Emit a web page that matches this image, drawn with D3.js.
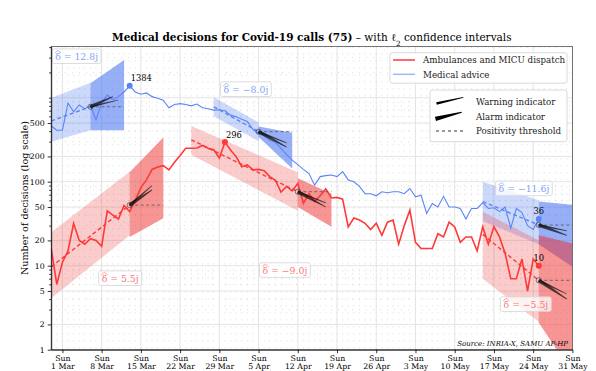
<!DOCTYPE html>
<meta charset="utf-8">
<style>
    body { margin: 0; background: #fff; }
    svg { font-family: "DejaVu Serif", "Liberation Serif", serif; }
    .grid-major line { stroke: #dedede; stroke-width: 0.8; }
    .grid-minor line { stroke: #c2c2c2; stroke-width: 0.7; stroke-dasharray: 0.8, 6.2; }
    .axis path, .axis line { stroke: #000; stroke-width: 0.8; }
    .axis text { fill: #000; font-size: 7.8px; font-family: "DejaVu Serif", serif; }
    .trend { fill: none; stroke-width: 1.4; stroke-dasharray: 4, 2.6; }
    .threshold { stroke: #555; stroke-width: 0.8; stroke-dasharray: 3, 2.5; }
    .legend rect { fill: #fff; fill-opacity: 0.9; stroke: #d0d0d0; stroke-width: 0.8; }
    .legend text { font-size: 8.7px; fill: #222; }
</style>
<body>
<script src="https://d3js.org/d3.v7.min.js"></script>
<script>

    // daily counts, starting on startDate
    var startDate = "2020-02-28";

    var ambulance = [16, 6,
        11, 15, 32, 20, 18, 21, 20, 17, 45, 40, 36, 52, 44, 60, 85, 105, 140, 150, 155, 138,
        170, 205, 250, 250, 252, 270, 250, 240, 192, 296, 238,
        199, 151, 159, 138, 140, 135, 115, 104, 75, 88, 78, 95, 55, 72, 58, 68, 82, 64, 65,
        62, 29, 37, 35, 32, 27, 32, 23, 33, 35, 18,
        30, 46, 19, 16, 16, 16, 24, 22, 33, 29, 19, 22, 22, 15, 29, 18, 29, 22, 14, 7, 7,
        12, 5, 12, 10];

    var advice = [460, 410,
        410, 860, 680, 820, 740, 800, 545, 880, 1075, 950, 1030, 1170, 1384, 1170, 1100, 1140,
        1030, 985, 935, 760, 830, 850, 830, 800, 840, 760, 740, 712, 720, 700, 620,
        595, 555, 520, 420, 375, 360, 312, 295, 250, 210, 181, 160, 140, 125, 91, 115, 118, 120,
        115, 132, 105, 100, 88, 72, 72, 68, 76, 74, 76, 76,
        72, 83, 66, 69, 42, 55, 50, 67, 50, 50, 48, 36, 48, 48, 56, 48, 49, 44, 50, 28, 48,
        43, 30, 27, 36];

    // fitted regimes: window, trend, confidence band, forecast cone, indicators, doubling time
    var adviceFits = [
        {start: "2020-02-28", pivot: "2020-03-06", end: "2020-03-12", trend: [528, 780],
         band: [["2020-02-28", 300, 990], ["2020-03-06", 410, 1510]],
         cone: [["2020-03-06", 410, 1490], ["2020-03-12", 410, 2810]],
         warn: ["2020-03-11", 940], alarm: ["2020-03-10", 1030],
         delta: "12.8", labelAt: ["2020-02-28T17:00", 2810]},
        {start: "2020-03-28", pivot: "2020-04-05", end: "2020-04-11", trend: [780, 394],
         band: [["2020-03-28", 600, 1010], ["2020-04-05", 303, 510]],
         cone: [["2020-04-05", 340, 455], ["2020-04-11", 144, 382]],
         warn: ["2020-04-10", 290], alarm: ["2020-04-10", 258],
         delta: "\u22128.0", labelAt: ["2020-03-29T18:00", 1138]},
        {start: "2020-05-15", pivot: "2020-05-25", end: "2020-05-31", trend: [58, 30.5],
         band: [["2020-05-15", 34, 100], ["2020-05-25", 18, 60]],
         cone: [["2020-05-25", 18, 58], ["2020-05-31", 9.7, 53]],
         warn: ["2020-05-30", 26], alarm: ["2020-05-30", 23],
         delta: "\u221211.6", labelAt: ["2020-05-17T20:00", 75]}
    ];

    var ambulanceFits = [
        {start: "2020-02-28", pivot: "2020-03-13", end: "2020-03-19", trend: [9.7, 52.7],
         band: [["2020-02-28", 4.1, 25], ["2020-03-13", 23, 131]],
         cone: [["2020-03-13", 22, 130], ["2020-03-19", 36.6, 335]],
         warn: ["2020-03-17", 90], alarm: ["2020-03-17", 80],
         delta: "5.5", labelAt: ["2020-03-08T00:00", 6.4]},
        {start: "2020-03-24", pivot: "2020-04-12", end: "2020-04-18", trend: [315, 76],
         band: [["2020-03-24", 210, 460], ["2020-04-12", 45, 130]],
         cone: [["2020-04-12", 50, 110], ["2020-04-18", 29, 72]],
         warn: ["2020-04-17", 56], alarm: ["2020-04-17", 50],
         delta: "\u22129.0", labelAt: ["2020-04-05T17:00", 8.0]},
        {start: "2020-05-15", pivot: "2020-05-25", end: "2020-05-31", trend: [23.6, 6.7],
         band: [["2020-05-15", 7, 44], ["2020-05-25", 2.15, 20]],
         cone: [["2020-05-25", 2.1, 23], ["2020-05-31", 0.53, 18.4]],
         warn: ["2020-05-30", 4.6], alarm: ["2020-05-30", 4.0],
         delta: "\u22125.5", labelAt: ["2020-05-18T17:00", 3.14]}
    ];

    // marked points: series, date, value
    var peaks = [
        ["advice", "2020-03-13", 1384],
        ["ambulance", "2020-03-30", 296],
        ["advice", "2020-05-25", 36],
        ["ambulance", "2020-05-25", 10]
    ];

    var yTickValues = [1, 2, 5, 10, 20, 50, 100, 200, 500];
    var xDomain = ["2020-02-28", "2020-05-31"];
    var seriesNames = ["Ambulances and MICU dispatch", "Medical advice"];
    var indicatorNames = ["Warning indicator", "Alarm indicator", "Positivity threshold"];

    var colors = {ambulance: "#ff3838", advice: "#5a85f5"},
        fills = {ambulance: "#f02a2a", advice: "#2f5ff0"},
        labelColors = {ambulance: "#f47a7a", advice: "#86a2f2"};

    var width = 596, height = 371,
        plot = {left: 51.2, right: 572.4, top: 46.5, bottom: 349.7};

    var parseMin = d3.utcParse("%Y-%m-%dT%H:%M"),
        parseDay = d3.utcParse("%Y-%m-%d");
    function parseDate(s) { return parseMin(s) || parseDay(s); }

    var x = d3.scaleUtc()
        .domain(xDomain.map(parseDate))
        .range([plot.left, plot.right]);

    var y = d3.scaleLog()
        .domain([1, 4070])
        .range([plot.bottom, plot.top]);

    var svg = d3.select("body").append("svg")
        .attr("width", width)
        .attr("height", height);

    svg.append("defs").append("clipPath").attr("id", "clip")
        .append("rect")
        .attr("x", plot.left).attr("y", plot.top)
        .attr("width", plot.right - plot.left).attr("height", plot.bottom - plot.top);

    var day0 = parseDate(startDate);
    function toPoints(values) {
        return values.map(function(v, i) { return {date: d3.utcDay.offset(day0, i), value: v}; });
    }
    var series = {ambulance: toPoints(ambulance), advice: toPoints(advice)};

    // grid
    var days = d3.utcDay.range(x.domain()[0], d3.utcDay.offset(x.domain()[1], 1));
    var sundays = d3.utcSunday.range(parseDate("2020-03-01"), d3.utcDay.offset(x.domain()[1], 1));
    var yMinor = [];
    [1, 10, 100, 1000].forEach(function(dec) {
        d3.range(2, 10).forEach(function(k) {
            if (k * dec <= 4070 && yTickValues.indexOf(k * dec) < 0) yMinor.push(k * dec);
        });
    });

    var minor = svg.append("g").attr("class", "grid-minor");
    minor.selectAll("line.v").data(days).enter().append("line")
        .attr("x1", function(d) { return x(d); }).attr("x2", function(d) { return x(d); })
        .attr("y1", plot.top).attr("y2", plot.bottom);
    minor.selectAll("line.h").data(yMinor).enter().append("line")
        .attr("x1", plot.left).attr("x2", plot.right)
        .attr("y1", function(d) { return y(d); }).attr("y2", function(d) { return y(d); });

    var major = svg.append("g").attr("class", "grid-major");
    major.selectAll("line.v").data(sundays).enter().append("line")
        .attr("x1", function(d) { return x(d); }).attr("x2", function(d) { return x(d); })
        .attr("y1", plot.top).attr("y2", plot.bottom);
    major.selectAll("line.h").data(yTickValues.concat([1000])).enter().append("line")
        .attr("x1", plot.left).attr("x2", plot.right)
        .attr("y1", function(d) { return y(d); }).attr("y2", function(d) { return y(d); });

    var chart = svg.append("g").attr("clip-path", "url(#clip)");

    var area = d3.area()
        .x(function(d) { return x(parseDate(d[0])); })
        .y0(function(d) { return y(d[1]); })
        .y1(function(d) { return y(d[2]); });

    function wedge(p0, p1, w0, w1) {
        var dx = p1[0] - p0[0], dy = p1[1] - p0[1], L = Math.hypot(dx, dy),
            nx = -dy / L, ny = dx / L;
        return "M" + [p0[0] + nx * w0, p0[1] + ny * w0] +
            "L" + [p1[0] + nx * w1, p1[1] + ny * w1] +
            "L" + [p1[0] - nx * w1, p1[1] - ny * w1] +
            "L" + [p0[0] - nx * w0, p0[1] - ny * w0] + "Z";
    }

    var allFits = adviceFits.map(function(f) { return {key: "advice", f: f}; })
        .concat(ambulanceFits.map(function(f) { return {key: "ambulance", f: f}; }));

    // bands
    allFits.forEach(function(o) {
        chart.append("path").datum(o.f.band).attr("d", area)
            .attr("fill", fills[o.key]).attr("fill-opacity", 0.24);
    });
    allFits.forEach(function(o) {
        chart.append("path").datum(o.f.cone).attr("d", area)
            .attr("fill", fills[o.key]).attr("fill-opacity", 0.5);
    });

    // series lines
    var line = d3.line()
        .x(function(d) { return x(d.date); })
        .y(function(d) { return y(d.value); });

    chart.append("path").datum(series.advice).attr("d", line)
        .attr("fill", "none").attr("stroke", colors.advice).attr("stroke-width", 1.1);
    chart.append("path").datum(series.ambulance).attr("d", line)
        .attr("fill", "none").attr("stroke", colors.ambulance).attr("stroke-width", 1.6);

    // trends, thresholds, indicators
    allFits.forEach(function(o) {
        var f = o.f,
            p0 = [x(parseDate(f.start)), y(f.trend[0])],
            p1 = [x(parseDate(f.pivot)), y(f.trend[1])];
        chart.append("line").attr("class", "trend")
            .attr("x1", p0[0]).attr("y1", p0[1]).attr("x2", p1[0]).attr("y2", p1[1])
            .attr("stroke", colors[o.key]);
        chart.append("line").attr("class", "threshold")
            .attr("x1", p1[0]).attr("y1", p1[1])
            .attr("x2", x(parseDate(f.end))).attr("y2", p1[1]);
        var pw = [x(parseDate(f.warn[0])), y(f.warn[1])],
            pa = [x(parseDate(f.alarm[0])), y(f.alarm[1])];
        chart.append("path").attr("d", wedge(p1, pw, 1.1, 0.3))
            .attr("fill", "#111").attr("fill-opacity", 0.75);
        chart.append("path").attr("d", wedge(p1, pa, 1.9, 0.4))
            .attr("fill", "#111").attr("fill-opacity", 0.75);
        chart.append("circle").attr("cx", p1[0]).attr("cy", p1[1]).attr("r", 2.6)
            .attr("fill", "none").attr("stroke", "#333").attr("stroke-width", 0.6);
    });

    // marked points
    peaks.forEach(function(p, i) {
        var px = x(parseDate(p[1])), py = y(p[2]);
        svg.append("circle").attr("cx", px).attr("cy", py).attr("r", 3)
            .attr("fill", colors[p[0]]);
        svg.append("text")
            .attr("x", i < 2 ? px + 1 : px)
            .attr("y", py - 4.5)
            .attr("text-anchor", i < 2 ? "start" : "middle")
            .style("font-size", "8.3px")
            .text(p[2]);
    });

    // doubling time labels, with a wide hat over the delta
    allFits.forEach(function(o) {
        var f = o.f,
            g = svg.append("g"),
            t = g.append("text")
                .attr("x", x(parseDate(f.labelAt[0])))
                .attr("y", y(f.labelAt[1]))
                .attr("fill", labelColors[o.key])
                .style("font-size", "9.3px")
                .text("\u03B4 = " + f.delta + "j");
        var b = t.node().getBBox(),
            c = t.node().getExtentOfChar(0),
            base = y(f.labelAt[1]),
            hatTop = base - 9.6;
        g.append("path")
            .attr("d", "M" + (c.x - 0.3) + "," + (hatTop + 2.4) +
                "L" + (c.x + c.width / 2) + "," + hatTop +
                "L" + (c.x + c.width + 0.3) + "," + (hatTop + 2.4))
            .attr("fill", "none").attr("stroke", labelColors[o.key]).attr("stroke-width", 0.7);
        var top = Math.min(b.y, hatTop) - 1.5;
        g.insert("rect", "text")
            .attr("x", b.x - 3).attr("y", top)
            .attr("width", b.width + 6).attr("height", b.y + b.height + 1.5 - top)
            .attr("rx", 2)
            .attr("fill", "#fff").attr("fill-opacity", 0.75)
            .attr("stroke", "#d4d4d4").attr("stroke-width", 0.8);
    });

    // axes
    svg.append("rect")
        .attr("x", plot.left).attr("y", plot.top)
        .attr("width", plot.right - plot.left).attr("height", plot.bottom - plot.top)
        .attr("fill", "none").attr("stroke", "#555").attr("stroke-width", 0.8);

    svg.append("g")
        .attr("class", "axis")
        .attr("transform", "translate(" + plot.left + ",0)")
        .call(d3.axisLeft(y).tickValues(yMinor.concat([1000])).tickSize(2).tickFormat(""))
        .select(".domain").remove();

    svg.append("g")
        .attr("class", "axis")
        .attr("transform", "translate(" + plot.left + ",0)")
        .call(d3.axisLeft(y).tickValues(yTickValues).tickSize(3.5).tickSizeOuter(0)
            .tickFormat(d3.format("d")));

    var xAxis = svg.append("g")
        .attr("class", "axis")
        .attr("transform", "translate(0," + plot.bottom + ")")
        .call(d3.axisBottom(x).tickValues(sundays).tickSize(3.5).tickSizeOuter(0).tickFormat(""));

    var fmt = d3.utcFormat("%-d %b");
    xAxis.selectAll(".tick").append("text")
        .attr("y", 11).attr("text-anchor", "middle")
        .text("Sun");
    xAxis.selectAll(".tick").append("text")
        .attr("y", 19.3).attr("text-anchor", "middle")
        .text(function(d) { return fmt(d); });

    svg.append("text")
        .attr("transform", "translate(27.5," + ((plot.top + plot.bottom) / 2) + ") rotate(-90)")
        .attr("text-anchor", "middle")
        .style("font-size", "9.6px")
        .text("Number of decisions (log scale)");

    var title = svg.append("text")
        .attr("x", (plot.left + plot.right) / 2)
        .attr("y", 41)
        .attr("text-anchor", "middle")
        .style("font-size", "10.5px");
    title.append("tspan").style("font-weight", "bold").text("Medical decisions for Covid-19 calls (75)");
    title.append("tspan").text(" \u2013 with \u2113");
    title.append("tspan").attr("baseline-shift", "sub").style("font-size", "7.2px").text("2");
    title.append("tspan").text(" confidence intervals");

    svg.append("text")
        .attr("x", 568).attr("y", 346)
        .attr("text-anchor", "end")
        .style("font-size", "7px").style("font-style", "italic")
        .text("Source: INRIA-X, SAMU AP-HP");

    // legends
    var leg1 = svg.append("g").attr("class", "legend");
    leg1.append("rect").attr("x", 390).attr("y", 52.7).attr("width", 177).attr("height", 30.5).attr("rx", 2.5);
    seriesNames.forEach(function(name, i) {
        var ly = 60 + i * 14.3;
        leg1.append("line").attr("x1", 393).attr("x2", 415).attr("y1", ly).attr("y2", ly)
            .attr("stroke", i === 0 ? colors.ambulance : "#a3b7f7").attr("stroke-width", 1.5);
        leg1.append("text").attr("x", 423).attr("y", ly + 3.2).text(name);
    });

    var leg2 = svg.append("g").attr("class", "legend");
    leg2.append("rect").attr("x", 430).attr("y", 90).attr("width", 137).attr("height", 51.7).attr("rx", 2.5);
    leg2.append("path").attr("d", wedge([436.5, 103.6], [463.3, 97.3], 1.3, 0.35)).attr("fill", "#000");
    leg2.append("path").attr("d", wedge([435.5, 118.8], [461.7, 112.3], 2.2, 0.5)).attr("fill", "#000");
    leg2.append("line").attr("x1", 436).attr("x2", 463).attr("y1", 131).attr("y2", 131)
        .attr("stroke", "#000").attr("stroke-width", 0.8).attr("stroke-dasharray", "3,3");
    indicatorNames.forEach(function(name, i) {
        leg2.append("text").attr("x", 476).attr("y", 101.7 + i * 14.7 + 3.2).text(name);
    });

</script>
